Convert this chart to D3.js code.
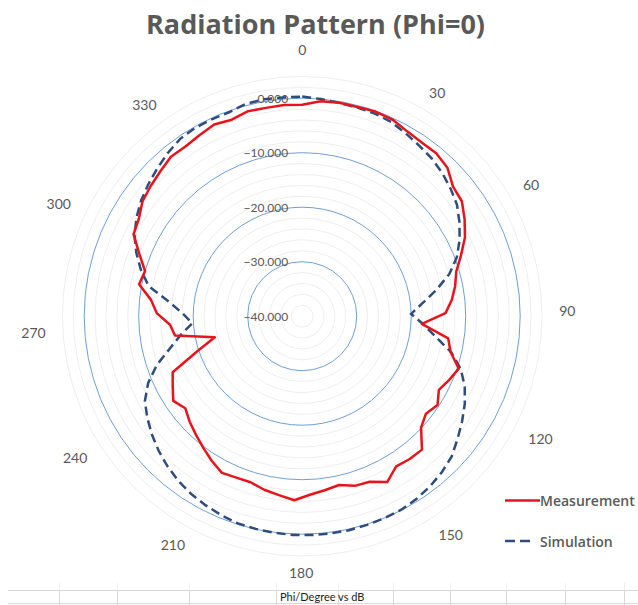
<!DOCTYPE html>
<html>
<head>
<meta charset="utf-8">
<script src="https://d3js.org/d3.v7.min.js"></script>
<style>
  body { margin: 0; background: #fff; }
  text { font-family: Lato, "Open Sans", sans-serif; fill: #595959; }
</style>
</head>
<body>
<div id="chart"></div>
<script>
// categories: Phi in degrees (Excel radar, 0..360 => 73 spokes)
var phi = [0,5,10,15,20,25,30,35,40,45,50,55,60,65,70,75,80,85,90,95,100,105,110,115,
  120,125,130,135,140,145,150,155,160,165,170,175,180,185,190,195,200,205,210,215,
  220,225,230,235,240,245,250,255,260,265,270,275,280,285,290,295,300,305,310,315,
  320,325,330,335,340,345,350,355,360];

// measured gain (dB)
var measurement = [-1.2,-0.4,-0.25,-0.3,-0.1,-0.3,-1.0,-1.3,-1.3,-1.9,-3.5,-3.9,-5.3,-6.8,
  -8.8,-10.6,-11.4,-12.4,-13.7,-18.0,-12.9,-12.0,-9.7,-10.6,-11.5,-10.3,-11.1,-10.1,
  -7.1,-7.2,-7.5,-5.8,-7.2,-7.4,-8.3,-7.8,-7.2,-6.2,-6.9,-7.4,-8.1,-8.0,-7.7,-8.7,
  -9.8,-10.8,-11.7,-12.7,-11.7,-13.0,-14.1,-19.7,-23.5,-16.4,-15.7,-13.3,-12.1,-9.5,
  -10.0,-8.0,-5.6,-5.1,-3.9,-3.35,-2.8,-2.1,-2.2,-1.8,-1.3,-1.7,-1.1,-1.2,-1.1];

// simulated gain (dB)
var simulation = [0.3,0.0,-0.27,-0.4,-0.5,-0.8,-1.45,-2.05,-2.55,-3.25,-4.1,-5.0,-6.4,-7.9,
  -9.6,-11.9,-14.9,-17.8,-20.0,-17.8,-15.3,-11.9,-9.3,-7.5,-6.1,-4.9,-3.7,-2.4,-1.6,
  -0.96,-0.45,-0.11,0.0,0.1,0.19,0.2,0.2,0.18,0.07,-0.05,-0.2,-0.6,-1.05,-1.55,-2.2,
  -3.0,-3.9,-4.9,-6.0,-7.2,-9.2,-11.9,-15.1,-17.5,-19.8,-18.1,-15.4,-11.3,-9.2,-7.4,
  -5.8,-4.6,-3.6,-2.8,-2.0,-1.2,-0.5,-0.25,-0.25,-0.25,0.3,0.4,0.3];

var angleLabels = [0,30,60,90,120,150,180,210,240,270,300,330];
var majorTicks = [-40,-30,-20,-10,0];
var minorTicks = [-38,-36,-34,-32,-28,-26,-24,-22,-18,-16,-14,-12,-8,-6,-4,-2,2,4];

var width = 638, height = 605;
var cx = 302.2, cy = 316.2;

var svg = d3.select("#chart").append("svg")
  .attr("width", width).attr("height", height);
svg.append("rect").attr("width", width).attr("height", height).attr("fill", "#fff");

var r = d3.scaleLinear().domain([-40, 4]).range([0, 239.8]);
var ang = d3.scaleLinear().domain([0, phi.length]).range([0, 2 * Math.PI]);

// spreadsheet cells under the chart
var cells = [8, 59, 117, 189, 276, 338, 393, 450, 506, 565, 624];
var sheet = svg.append("g");
sheet.selectAll("line.h").data([590.5, 603.5]).enter().append("line")
  .attr("x1", 8).attr("x2", width).attr("y1", d => d).attr("y2", d => d)
  .attr("stroke", "#d9d9d9");
sheet.selectAll("line.v").data(cells.slice(1)).enter().append("line")
  .attr("x1", d => d + 0.5).attr("x2", d => d + 0.5).attr("y1", 590).attr("y2", 605)
  .attr("stroke", "#d9d9d9");
sheet.selectAll("line.t").data(cells.slice(1)).enter().append("line")
  .attr("x1", d => d + 0.5).attr("x2", d => d + 0.5).attr("y1", 583).attr("y2", 590)
  .attr("stroke", "#f0f0f0");
sheet.append("text").attr("x", 280).attr("y", 601)
  .style("font-size", "11px").style("fill", "#222")
  .text("Phi/Degree vs dB");

// title
svg.append("text").attr("x", 315.5).attr("y", 34)
  .attr("text-anchor", "middle")
  .style("font-family", "'Open Sans', sans-serif")
  .style("font-size", "27px").style("font-weight", "bold")
  .text("Radiation Pattern (Phi=0)");

var g = svg.append("g").attr("transform", "translate(" + cx + "," + cy + ")");

// gridlines
g.selectAll("circle.minor").data(minorTicks).enter().append("circle")
  .attr("r", d => r(d)).attr("fill", "none")
  .attr("stroke", "#f0eeec").attr("stroke-width", 1);
g.selectAll("circle.major").data(majorTicks.slice(1)).enter().append("circle")
  .attr("r", d => r(d)).attr("fill", "none")
  .attr("stroke", "#6f9fd3").attr("stroke-width", 1);

// value axis labels
g.selectAll("text.val").data(majorTicks).enter().append("text")
  .attr("x", -14).attr("y", d => -r(d))
  .attr("text-anchor", "end").attr("dominant-baseline", "central")
  .style("font-size", "12px")
  .text(d => d3.format(".3f")(d));

// series
var radial = d3.lineRadial()
  .angle((d, i) => ang(i))
  .radius(d => r(d))
  .curve(d3.curveLinearClosed);

g.append("path").datum(simulation)
  .attr("d", radial).attr("fill", "none")
  .attr("stroke", "#2f4d7c").attr("stroke-width", 2.5)
  .attr("stroke-dasharray", "9,5");

g.append("path").datum(measurement)
  .attr("d", radial).attr("fill", "none")
  .attr("stroke", "#e8141c").attr("stroke-width", 2.5)
  .attr("stroke-linejoin", "round");

// category labels
var R = 257;
g.selectAll("text.cat").data(angleLabels).enter().append("text")
  .attr("x", d => R * Math.sin(ang(phi.indexOf(d))))
  .attr("y", d => -R * Math.cos(ang(phi.indexOf(d))) - (d === 0 ? 10 : 0))
  .attr("text-anchor", d => d === 0 ? "middle" : (d < 180 ? "start" : "end"))
  .attr("dominant-baseline", "central")
  .style("font-size", "14px")
  .text(d => d);

// legend
var legend = svg.append("g")
  .style("font-family", "'Open Sans', sans-serif");
legend.append("line").attr("x1", 505).attr("x2", 540).attr("y1", 500.5).attr("y2", 500.5)
  .attr("stroke", "#e8141c").attr("stroke-width", 2.5);
legend.append("text").attr("x", 540).attr("y", 500.5)
  .attr("dominant-baseline", "central")
  .style("font-family", "'Open Sans', sans-serif")
  .style("font-size", "14px").style("font-weight", "600")
  .text("Measurement");
legend.append("line").attr("x1", 505).attr("x2", 532).attr("y1", 541).attr("y2", 541)
  .attr("stroke", "#2f4d7c").attr("stroke-width", 2.5).attr("stroke-dasharray", "10,5");
legend.append("text").attr("x", 540).attr("y", 541)
  .attr("dominant-baseline", "central")
  .style("font-family", "'Open Sans', sans-serif")
  .style("font-size", "14px").style("font-weight", "600")
  .text("Simulation");
</script>
</body>
</html>
